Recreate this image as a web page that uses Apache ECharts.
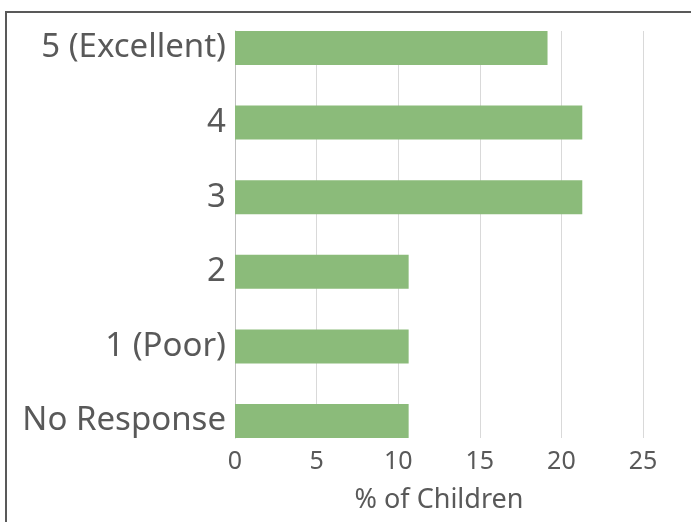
<!DOCTYPE html>
<html>
<head>
<meta charset="utf-8">
<script src="https://cdn.jsdelivr.net/npm/echarts@6/dist/echarts.min.js"></script>
<style>html,body{margin:0;padding:0;background:#fff;}#c{width:691px;height:522px;}</style>
</head>
<body>
<div id="c"></div>
<script>
const categories = ['No Response', '1 (Poor)', '2', '3', '4', '5 (Excellent)'];
const values = [10.64, 10.64, 10.64, 21.28, 21.28, 19.15];
const xMin = 0, xMax = 25, xInterval = 5;
const axisName = '% of Children';

const chart = echarts.init(document.getElementById('c'), null, {renderer: 'canvas'});
const FONT = 'Noto Sans';
const TXT = '#595959';
chart.setOption({
  animation: false,
  backgroundColor: '#fff',
  textStyle: {fontFamily: FONT},
  graphic: [{
    type: 'rect', shape: {x: 6, y: 12, width: 720, height: 540},
    style: {fill: 'none', stroke: '#595959', lineWidth: 2}, silent: true
  }],
  grid: [
    {left: 235, right: 48, top: 10.7, bottom: 63.7},
    {left: 235, right: 48, top: 31, bottom: 84}
  ],
  xAxis: [
    {gridIndex: 0, type: 'value', min: xMin, max: xMax, interval: xInterval,
     axisLine: {show: false}, axisTick: {show: false}, axisLabel: {show: false}, splitLine: {show: false}},
    {gridIndex: 1, type: 'value', min: xMin, max: xMax, interval: xInterval,
     axisLine: {show: false}, axisTick: {show: false},
     axisLabel: {color: TXT, fontSize: 25, margin: 11, fontFamily: FONT},
     splitLine: {show: true, lineStyle: {color: '#d9d9d9', width: 1}},
     name: axisName, nameLocation: 'middle', nameGap: 49,
     nameTextStyle: {color: TXT, fontSize: 27, fontFamily: FONT}}
  ],
  yAxis: [
    {gridIndex: 0, type: 'category', data: categories,
     axisLine: {show: false}, axisTick: {show: false},
     axisLabel: {color: TXT, fontSize: 33, margin: 9, fontFamily: FONT}},
    {gridIndex: 1, type: 'value', min: 0, max: 1,
     axisLine: {show: true, lineStyle: {color: '#bfbfbf', width: 1}},
     axisTick: {show: false}, axisLabel: {show: false}, splitLine: {show: false}}
  ],
  series: [{
    type: 'bar', xAxisIndex: 0, yAxisIndex: 0, data: values,
    barWidth: 34, itemStyle: {color: '#8bbb7a'}, z: 3
  }]
});
</script>
</body>
</html>
